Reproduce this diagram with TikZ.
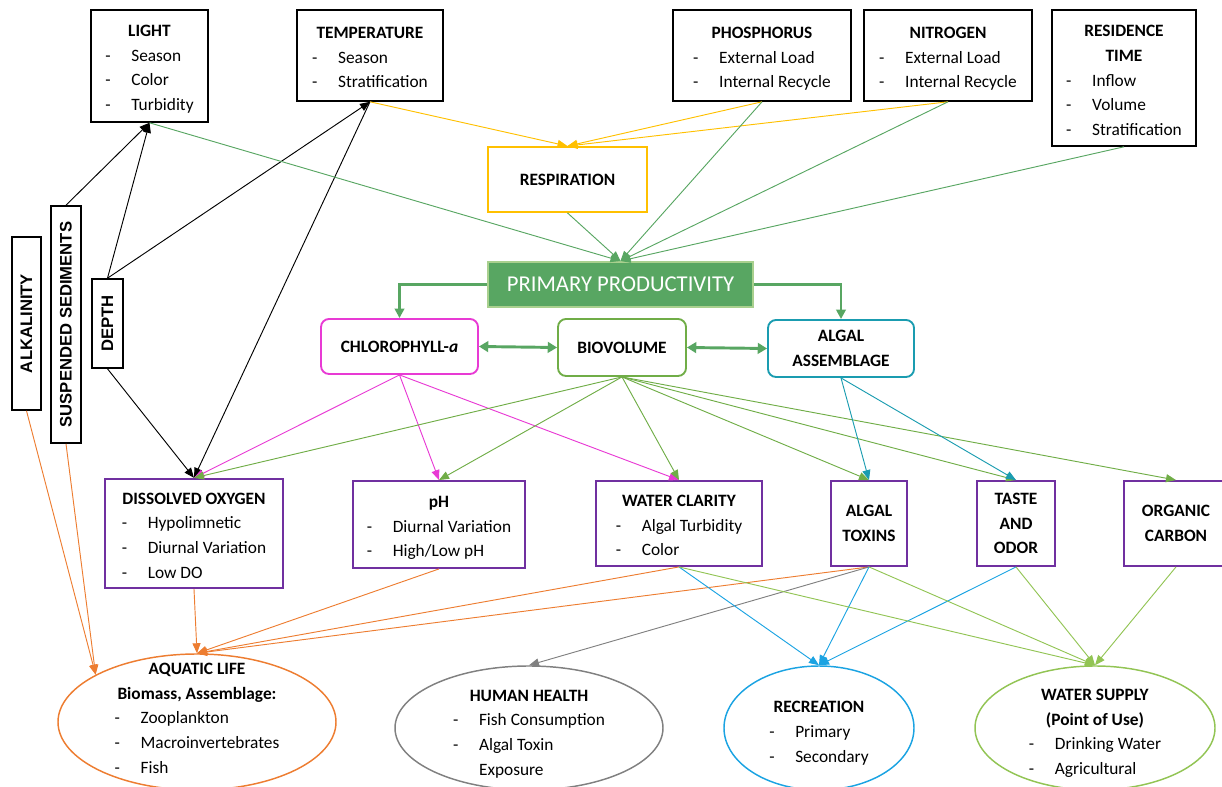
\documentclass[tikz,border=0pt]{standalone}
\usepackage{fontspec}
\setmainfont{Carlito}
\newfontfamily\vertfont{Liberation Sans}
\usetikzlibrary{arrows.meta,shapes.geometric}

\definecolor{ppgreen}{RGB}{88,166,98}
\definecolor{ppborder}{RGB}{169,208,142}
\definecolor{respgold}{RGB}{255,192,0}
\definecolor{chlmag}{RGB}{232,58,212}
\definecolor{biogreen}{RGB}{112,173,71}
\definecolor{algteal}{RGB}{26,156,176}
\definecolor{boxpurple}{RGB}{112,48,160}
\definecolor{alorange}{RGB}{237,125,49}
\definecolor{hhgray}{RGB}{128,128,128}
\definecolor{recblue}{RGB}{27,163,226}
\definecolor{wsgreen}{RGB}{146,196,84}

\newcommand{\itm}[1]{\makebox[19.5pt][l]{-}#1}
\newcommand{\lst}[1]{\begin{tabular}[t]{@{}l@{}}#1\end{tabular}}
\newcommand{\ttl}[2][17pt]{\rule{0pt}{#1}\textbf{#2}}
\newcommand{\bodyfont}{\fontsize{13}{18.5}\selectfont}

\tikzset{
  blackbox/.style={draw=black, line width=1.2pt, align=center, inner sep=2pt, font=\bodyfont},
  colbox/.style={draw=#1, line width=1.4pt, rounded corners=6pt, align=center, inner sep=2pt, font=\bodyfont\bfseries},
  purplebox/.style={draw=boxpurple, line width=1.4pt, align=center, inner sep=2pt, font=\bodyfont},
  vertbox/.style={draw=black, line width=1.2pt, rotate=90, inner sep=1pt, font=\vertfont\bfseries\fontsize{12.5}{15}\selectfont},
  goal/.style={ellipse, draw=#1, line width=1.1pt, align=center, inner sep=-25pt, font=\bodyfont},
  lnk/.style={draw=#1, line width=0.7pt, -{Triangle[length=7.5pt,width=6pt]}},
  elbow/.style={draw=ppgreen, line width=2pt, -{Triangle[length=7pt,width=7pt]}},
  dbl/.style={draw=ppgreen, line width=2.2pt, {Triangle[length=7pt,width=8pt]}-{Triangle[length=7pt,width=8pt]}}
}

\begin{document}
\begin{tikzpicture}[x=0.75pt, y=-0.75pt]
\useasboundingbox (0,0) rectangle (1222,787);

% Physical drivers
\node[blackbox, minimum width=87.75pt, minimum height=84pt] (light) at (149.5,66)
  {\ttl{LIGHT}\\\lst{\itm{Season}\\\itm{Color}\\\itm{Turbidity}}};
\node[blackbox, minimum width=109.5pt, minimum height=68.25pt] (temp) at (370,55.5)
  {\ttl{TEMPERATURE}\\\lst{\itm{Season}\\\itm{Stratification}}};
\node[blackbox, minimum width=133.5pt, minimum height=68.25pt] (phos) at (762,55.5)
  {\ttl{PHOSPHORUS}\\\lst{\itm{External Load}\\\itm{Internal Recycle}}};
\node[blackbox, minimum width=126pt, minimum height=68.25pt] (nitro) at (948,55.5)
  {\ttl{NITROGEN}\\\lst{\itm{External Load}\\\itm{Internal Recycle}}};
\node[blackbox, minimum width=108pt, minimum height=102pt] (res) at (1124,78)
  {\ttl[18pt]{RESIDENCE}\\\textbf{TIME}\\\lst{\itm{Inflow}\\\itm{Volume}\\\itm{Stratification}}};

\node[vertbox, minimum width=129.75pt, minimum height=21.75pt] (alk) at (26.5,323.5) {ALKALINITY};
\node[vertbox, minimum width=177.75pt, minimum height=22.5pt] (ss) at (66,324.5) {SUSPENDED SEDIMENTS};
\node[vertbox, minimum width=66.75pt, minimum height=23.25pt] (depth) at (107.5,323.5) {DEPTH};

% Productivity
\node[draw=respgold, line width=1.4pt, minimum width=119.25pt, minimum height=48.75pt, font=\bodyfont\bfseries] (resp) at (567.5,179.5) {RESPIRATION};
\node[fill=ppgreen, draw=ppborder, line width=1.5pt, text=white, minimum width=198.75pt, minimum height=33.75pt, font=\fontsize{17}{20}\selectfont] (pp) at (620.5,284.5) {PRIMARY PRODUCTIVITY};
\node[colbox=chlmag, minimum width=117.75pt, minimum height=41.25pt] (chl) at (399.5,346.5) {CHLOROPHYLL-\textit{a}};
\node[colbox=biogreen, minimum width=96pt, minimum height=42.75pt] (bio) at (622,347.5) {BIOVOLUME};
\node[colbox=algteal, minimum width=109.5pt, minimum height=42.75pt] (alg) at (841,348.5) {ALGAL\\ASSEMBLAGE};

% Responses
\node[purplebox, minimum width=133.5pt, minimum height=78.75pt] (do) at (194,533.5)
  {\ttl{DISSOLVED OXYGEN}\\\lst{\itm{Hypolimnetic}\\\itm{Diurnal Variation}\\\itm{Low DO}}};
\node[purplebox, minimum width=129pt, minimum height=65.25pt] (ph) at (439,524.5)
  {\ttl{pH}\\\lst{\itm{Diurnal Variation}\\\itm{High/Low pH}}};
\node[purplebox, minimum width=124.5pt, minimum height=63.75pt] (wc) at (679,523.5)
  {\ttl{WATER CLARITY}\\\lst{\itm{Algal Turbidity}\\\itm{Color}}};
\node[purplebox, minimum width=57pt, minimum height=63.75pt, font=\bodyfont\bfseries] (at) at (869,523.5) {ALGAL\\TOXINS};
\node[purplebox, minimum width=58.5pt, minimum height=63.75pt, font=\bodyfont\bfseries] (to) at (1016,523.5) {TASTE\\AND\\ODOR};
\node[purplebox, minimum width=78pt, minimum height=63.75pt, font=\bodyfont\bfseries] (oc) at (1176,523.5) {ORGANIC\\CARBON};

% Uses
\node[goal=alorange, minimum width=208.5pt, minimum height=102pt] (al) at (197,722)
  {\textbf{AQUATIC LIFE}\\\textbf{Biomass, Assemblage:}\\\lst{\itm{Zooplankton}\\\itm{Macroinvertebrates}\\\itm{Fish}}};
\node[goal=hhgray, minimum width=201pt, minimum height=93pt] (hh) at (529,728)
  {\ttl[21pt]{HUMAN HEALTH}\\\lst{\itm{Fish Consumption}\\\itm{Algal Toxin}\\\hspace{19.5pt}Exposure}};
\node[goal=recblue, minimum width=142.5pt, minimum height=93pt] (rec) at (819,728)
  {\ttl[20pt]{RECREATION}\\\lst{\itm{Primary}\\\itm{Secondary}}};
\node[goal=wsgreen, minimum width=180pt, minimum height=93pt] (ws) at (1095,728)
  {\ttl[20pt]{WATER SUPPLY}\\\textbf{(Point of Use)}\\\lst{\itm{Drinking Water}\\\itm{Agricultural}}};

% Black links
\draw[lnk=black] (ss.east) -- (light.south);
\draw[lnk=black] (depth.east) -- (light.south);
\draw[lnk=black] (depth.east) -- (temp.south);
\draw[lnk=black] (depth.west) -- (do.north);
\draw[lnk=black] (temp.south) -- (do.north);

% Into respiration and primary productivity
\foreach \n in {temp,phos,nitro} \draw[lnk=respgold] (\n.south) -- (resp.north);
\foreach \n in {light,resp,phos,nitro,res} \draw[lnk=ppgreen] (\n.south) -- (pp.north);

\draw[elbow] (pp.west) -| (chl.north);
\draw[elbow] (pp.east) -| (alg.north);
\draw[dbl] (chl.east) -- (bio.west);
\draw[dbl] (bio.east) -- (alg.west);

% Algae to responses
\foreach \n in {do,ph,wc} \draw[lnk=chlmag] (chl.south) -- (\n.north);
\foreach \n in {do,ph,wc,at,to,oc} \draw[lnk=biogreen] (bio.south) -- (\n.north);
\foreach \n in {at,to} \draw[lnk=algteal] (alg.south) -- (\n.north);

% Responses to uses
\foreach \n in {do,ph,wc,at} \draw[lnk=alorange] (\n.south) -- (al.north);
\draw[lnk=alorange] (alk.west) -- (al.155);
\draw[lnk=alorange] (ss.west) -- (al.155);
\draw[lnk=hhgray] (at.south) -- (hh.north);
\foreach \n in {wc,at,to} \draw[lnk=recblue] (\n.south) -- (rec.north);
\foreach \n in {wc,at,to,oc} \draw[lnk=wsgreen] (\n.south) -- (ws.north);
\end{tikzpicture}
\end{document}
